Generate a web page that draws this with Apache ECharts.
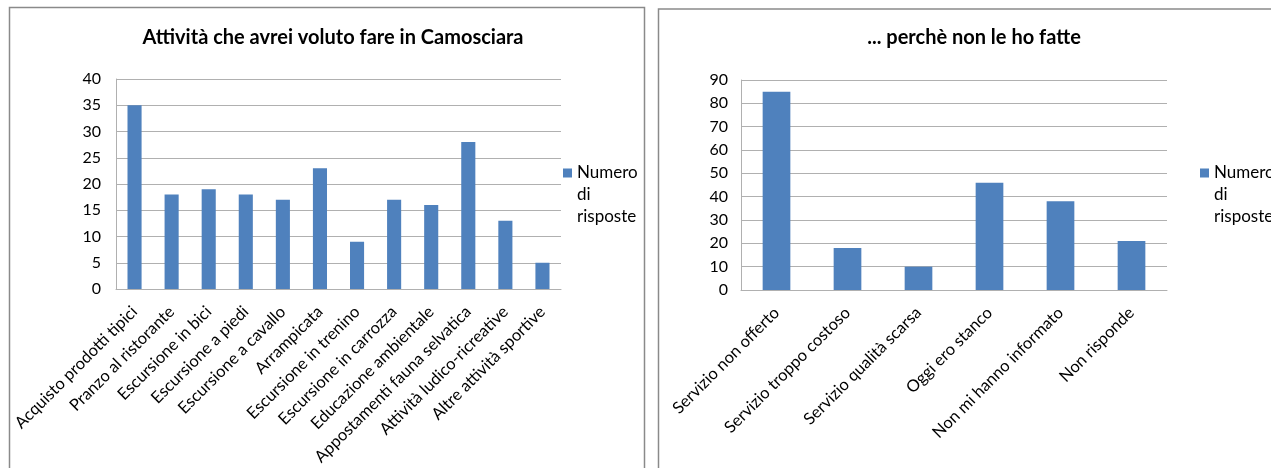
<!DOCTYPE html>
<html>
<head>
<meta charset="utf-8">
<script src="https://cdn.jsdelivr.net/npm/echarts@6/dist/echarts.min.js"></script>
<style>
  html, body { margin: 0; padding: 0; background: #fff; }
  #chart { width: 1271px; height: 468px; }
</style>
</head>
<body>
<div id="chart"></div>
<script>
// Left panel: activities visitors would have liked to do
const activityCategories = [
  'Acquisto prodotti tipici', 'Pranzo al ristorante', 'Escursione in bici',
  'Escursione a piedi', 'Escursione a cavallo', 'Arrampicata',
  'Escursione in trenino', 'Escursione in carrozza', 'Educazione ambientale',
  'Appostamenti fauna selvatica', 'Attività ludico-ricreative', 'Altre attività sportive'
];
const activityValues = [35, 18, 19, 18, 17, 23, 9, 17, 16, 28, 13, 5];

// Right panel: reasons why they were not done
const reasonCategories = [
  'Servizio non offerto', 'Servizio troppo costoso', 'Servizio qualità scarsa',
  'Oggi ero stanco', 'Non mi hanno informato', 'Non risponde'
];
const reasonValues = [85, 18, 10, 46, 38, 21];

const seriesName = 'Numero di risposte';
const titles = ['Attività che avrei voluto fare in Camosciara', '... perchè non le ho fatte'];

const FONT = 'Lato';
const BAR = '#4f81bd';
const GRID_LINE = '#b0b0b0';

// Legend marker: a square sitting at the top of a tall (invisible) box so it
// lines up with the first line of the three-line legend text.
const LEGEND_ICON = 'path://M0,0H9V9H0Z M0,53H9';

const chart = echarts.init(document.getElementById('chart'), null, { renderer: 'canvas' });

function legendFor(left, top, name) {
  return {
    show: true,
    data: [{ name }],
    left, top,
    orient: 'vertical',
    icon: LEGEND_ICON, itemWidth: 9, itemHeight: 53, itemGap: 6,
    selectedMode: false,
    formatter: () => 'Numero\ndi\nrisposte',
    textStyle: { fontFamily: FONT, fontSize: 17, color: '#000', lineHeight: 22 }
  };
}

function valueAxis(gridIndex, max, interval, margin) {
  return {
    type: 'value', gridIndex, min: 0, max, interval,
    axisLine: { show: true, lineStyle: { color: GRID_LINE, width: 1 } },
    axisTick: { show: false },
    splitLine: { show: true, lineStyle: { color: GRID_LINE, width: 1 } },
    axisLabel: { fontFamily: FONT, fontSize: 16, color: '#000', margin }
  };
}

function categoryAxis(gridIndex, data) {
  return {
    type: 'category', gridIndex, data,
    axisLine: { show: true, lineStyle: { color: GRID_LINE, width: 1 } },
    axisTick: { show: false },
    axisLabel: { fontFamily: FONT, fontSize: 16.5, color: '#000', rotate: 45, interval: 0, margin: 20 }
  };
}

chart.setOption({
  animation: false,
  backgroundColor: '#fff',
  title: [
    { text: titles[0], left: 328, top: 23, textAlign: 'center',
      textStyle: { fontFamily: FONT, fontSize: 20, fontWeight: 'bold', color: '#000' } },
    { text: titles[1], left: 969, top: 23, textAlign: 'center',
      textStyle: { fontFamily: FONT, fontSize: 20, fontWeight: 'bold', color: '#000' } }
  ],
  legend: [legendFor(558, 157, seriesName), legendFor(1195, 157, seriesName + ' ')],
  grid: [
    { left: 116, right: 710, top: 79, bottom: 179, containLabel: false },
    { left: 741, right: 104, top: 80, bottom: 178, containLabel: false }
  ],
  xAxis: [categoryAxis(0, activityCategories), categoryAxis(1, reasonCategories)],
  yAxis: [valueAxis(0, 40, 5, 15), valueAxis(1, 90, 10, 13)],
  series: [
    { name: seriesName, type: 'bar', xAxisIndex: 0, yAxisIndex: 0,
      data: activityValues, barWidth: '38%', itemStyle: { color: BAR } },
    { name: seriesName + ' ', type: 'bar', xAxisIndex: 1, yAxisIndex: 1,
      data: reasonValues, barWidth: '39%', itemStyle: { color: BAR } }
  ],
  graphic: [
    { type: 'rect', shape: { x: 9.5, y: 7.5, width: 635, height: 490 },
      style: { fill: null, stroke: '#8a8a8a', lineWidth: 1.5 }, silent: true },
    { type: 'rect', shape: { x: 658.5, y: 9, width: 700, height: 490 },
      style: { fill: null, stroke: '#8a8a8a', lineWidth: 1.5 }, silent: true }
  ]
});
</script>
</body>
</html>
